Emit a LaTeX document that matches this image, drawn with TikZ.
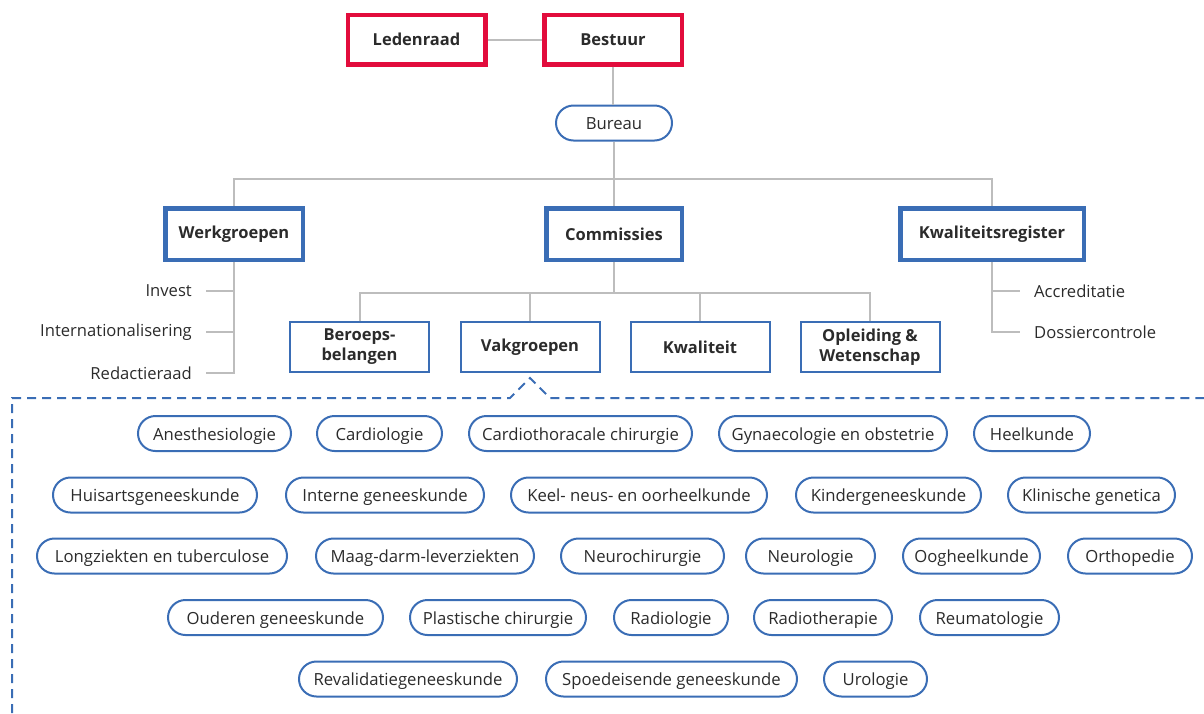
\documentclass[tikz,border=0pt]{standalone}
\usepackage{fontspec}
\setmainfont{Open Sans}
\definecolor{redb}{HTML}{E20C3C}
\definecolor{blueb}{HTML}{3A6DB5}
\definecolor{lineg}{HTML}{BDBDBD}
\definecolor{txt}{HTML}{2B2B2B}
\begin{document}
\begin{tikzpicture}[x=1pt,y=-1pt,
  topbox/.style={draw=redb,line width=4.5pt,minimum width=137.5pt,minimum height=49.5pt,inner sep=0pt,font=\fontsize{16.5}{20}\selectfont\bfseries,text=txt},
  mainbox/.style={draw=blueb,line width=4.5pt,minimum height=51.5pt,inner sep=0pt,font=\fontsize{16.5}{20}\selectfont\bfseries,text=txt},
  subbox/.style={draw=blueb,line width=2pt,minimum width=139pt,minimum height=50pt,inner sep=0pt,align=center,font=\fontsize{16.5}{20}\selectfont\bfseries,text=txt},
  pill/.style={draw=blueb,line width=2pt,rounded corners=17.5pt,minimum height=35pt,inner sep=0pt,text height=16.5pt,text depth=3.5pt,font=\fontsize{16.7}{20}\selectfont,text=txt},
  side/.style={inner sep=0pt,font=\fontsize{16.6}{20}\selectfont,text=txt},
  conn/.style={draw=lineg,line width=2pt},
  dashline/.style={draw=blueb,line width=2pt,dash pattern=on 9pt off 6pt}]
\useasboundingbox (0,0) rectangle (1204,713);
% top
\node[topbox] (leden) at (416.5,39.5) {Ledenraad};
\node[topbox] (best) at (613,39.5) {Bestuur};
\node[pill,minimum width=116pt] (bureau) at (614,123) {Bureau};
\draw[conn] (leden) -- (best);
\draw[conn] (best.south) -- (best.south |- bureau.north);
% main
\node[mainbox,minimum width=137.5pt] (wg) at (234,234) {Werkgroepen};
\node[mainbox,minimum width=135.5pt] (com) at (614,234) {Commissies};
\node[mainbox,minimum width=183.5pt] (kr) at (992,234) {Kwaliteitsregister};
\coordinate (hub) at (614,179);
\draw[conn] (bureau.south) -- (hub);
\draw[conn] (wg.north) |- (hub) -| (kr.north);
\draw[conn] (hub) -- (com.north);
% werkgroepen labels
\node[side,anchor=east] (inv) at (192,291) {Invest};
\node[side,anchor=east] (int) at (192,332) {Internationalisering};
\node[side,anchor=east] (red) at (192,373) {Redactieraad};
\draw[conn] (wg.south) -- (wg.south |- red) -- ([xshift=14pt]red.east);
\draw[conn] (wg.south |- inv) -- ([xshift=14pt]inv.east);
\draw[conn] (wg.south |- int) -- ([xshift=14pt]int.east);
% kwaliteitsregister labels
\node[side,anchor=west] (acc) at (1034,291) {Accreditatie};
\node[side,anchor=west] (dos) at (1034,332) {Dossiercontrole};
\draw[conn] (kr.south) -- (kr.south |- dos) -- ([xshift=-14pt]dos.west);
\draw[conn] (kr.south |- acc) -- ([xshift=-14pt]acc.west);
% commissies sub
\node[subbox] (ber) at (359.5,347) {Beroeps-\\belangen};
\node[subbox] (vak) at (530,347) {Vakgroepen};
\node[subbox] (kwa) at (700,347) {Kwaliteit};
\node[subbox] (opl) at (870,347) {Opleiding \&\\Wetenschap};
\coordinate (chub) at (614,293);
\draw[conn] (com.south) -- (chub);
\draw[conn] (ber.north) |- (chub) -| (opl.north);
\draw[conn] (vak.north) -- (vak.north |- chub);
\draw[conn] (kwa.north) -- (kwa.north |- chub);
% dashed region
\coordinate (d1) at (12,713);
\coordinate (d2) at (12,398);
\coordinate (d3) at (510,398);
\coordinate (d4) at (530,378);
\coordinate (d5) at (550,398);
\coordinate (d6) at (1204,398);
\draw[dashline] (d1) -- (d2) -- (d3) -- (d4) -- (d5) -- (d6);
% pills row 1
\node[pill,minimum width=153pt] (p1) at (214.5,433.5) {Anesthesiologie};
\node[pill,minimum width=125pt] (p2) at (379.5,433.5) {Cardiologie};
\node[pill,minimum width=223pt] (p3) at (580.5,433.5) {Cardiothoracale chirurgie};
\node[pill,minimum width=228pt] (p4) at (833,433.5) {Gynaecologie en obstetrie};
\node[pill,minimum width=116pt] (p5) at (1032,433.5) {Heelkunde};
% row 2
\node[pill,minimum width=204pt] (q1) at (155,495) {Huisartsgeneeskunde};
\node[pill,minimum width=198pt] (q2) at (385,495) {Interne geneeskunde};
\node[pill,minimum width=256pt] (q3) at (639,495) {Keel- neus- en oorheelkunde};
\node[pill,minimum width=185pt] (q4) at (888.5,495) {Kindergeneeskunde};
\node[pill,minimum width=167pt] (q5) at (1091.5,495) {Klinische genetica};
% row 3
\node[pill,minimum width=250pt] (r1) at (162,556) {Longziekten en tuberculose};
\node[pill,minimum width=218pt] (r2) at (425,556) {Maag-darm-leverziekten};
\node[pill,minimum width=163pt] (r3) at (642.5,556) {Neurochirurgie};
\node[pill,minimum width=129pt] (r4) at (810.5,556) {Neurologie};
\node[pill,minimum width=137pt] (r5) at (971.5,556) {Oogheelkunde};
\node[pill,minimum width=124pt] (r6) at (1130,556) {Orthopedie};
% row 4
\node[pill,minimum width=215pt] (s1) at (275.5,617.5) {Ouderen geneeskunde};
\node[pill,minimum width=176pt] (s2) at (498,617.5) {Plastische chirurgie};
\node[pill,minimum width=114pt] (s3) at (671,617.5) {Radiologie};
\node[pill,minimum width=138pt] (s4) at (823,617.5) {Radiotherapie};
\node[pill,minimum width=139pt] (s5) at (989.5,617.5) {Reumatologie};
% row 5
\node[pill,minimum width=218pt] (t1) at (408,679) {Revalidatiegeneeskunde};
\node[pill,minimum width=251pt] (t2) at (671.5,679) {Spoedeisende geneeskunde};
\node[pill,minimum width=103pt] (t3) at (875.5,679) {Urologie};
\end{tikzpicture}
\end{document}
